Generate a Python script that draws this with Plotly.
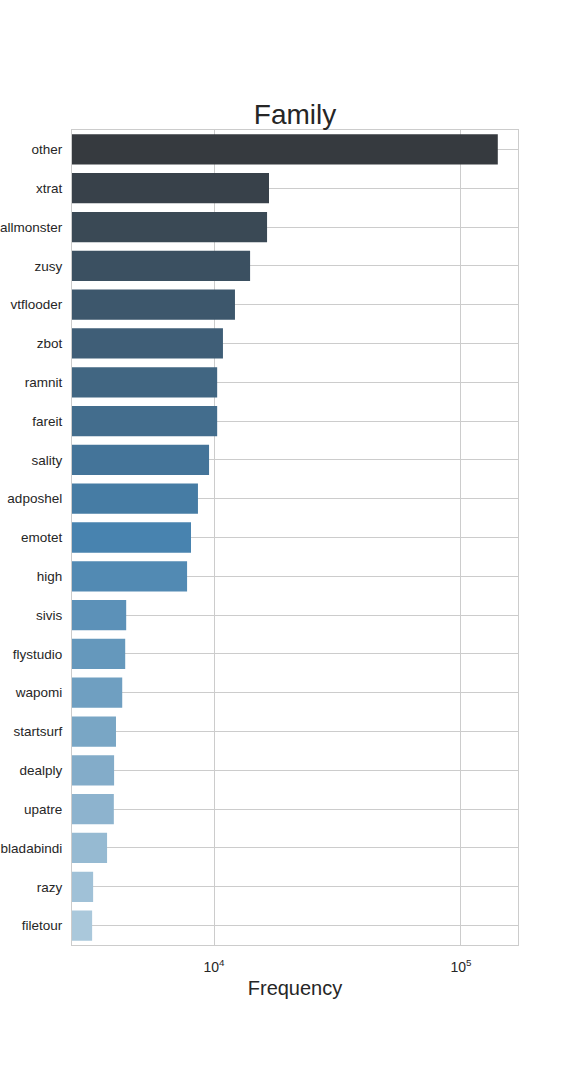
import plotly.graph_objects as go

families = ["other", "xtrat", "smallmonster", "zusy", "vtflooder", "zbot", "ramnit",
            "fareit", "sality", "adposhel", "emotet", "high", "sivis", "flystudio",
            "wapomi", "startsurf", "dealply", "upatre", "bladabindi", "razy", "filetour"]
frequency = [141000, 16700, 16400, 14000, 12160, 10870, 10300,
             10300, 9550, 8610, 8070, 7780, 4410, 4370,
             4250, 4010, 3940, 3930, 3690, 3240, 3210]

# palette: dark -> blue -> light (seaborn Blues_d style, desaturated)
def blend(c1, c2, t):
    return tuple(round(a + (b - a) * t) for a, b in zip(c1, c2))

n = len(families)
top, mid, bot = (54, 58, 63), (72, 131, 175), (170, 200, 219)
colors = []
for i in range(n):
    t = i / (n - 1)
    if t <= 0.5:
        c = blend(top, mid, t / 0.5)
    else:
        c = blend(mid, bot, (t - 0.5) / 0.5)
    colors.append("rgb(%d,%d,%d)" % c)

fig = go.Figure(go.Bar(
    x=frequency, y=families, orientation="h",
    marker=dict(color=colors, line=dict(width=0)),
    width=0.78,
))

font_family = "Liberation Sans, Arial, sans-serif"
grid = "#cccccc"

fig.update_layout(
    width=576, height=1080,
    margin=dict(l=72, r=58, t=130, b=135),
    paper_bgcolor="white", plot_bgcolor="white",
    font=dict(family=font_family, color="#262626", size=14),
    showlegend=False,
    title=dict(text="Family", x=0.5122, xanchor="center", y=1 - 114 / 1080,
               yref="container", yanchor="middle",
               font=dict(size=28, color="#262626", family=font_family)),
    bargap=0.2,
)

fig.update_xaxes(
    type="log", range=[3.425, 5.231],
    tickvals=[1e4, 1e5], ticktext=["10<sup>4</sup>", "10<sup>5</sup>"],
    showgrid=True, gridcolor=grid, gridwidth=1,
    showline=True, linecolor=grid, linewidth=1.25, mirror=True,
    ticks="", zeroline=False, ticklabelstandoff=9,
    tickfont=dict(size=14, color="#262626"),
    automargin=False,
    title=dict(text="Frequency", font=dict(size=20, color="#262626"), standoff=7),
)
fig.update_yaxes(
    autorange="reversed",
    showgrid=True, gridcolor=grid, gridwidth=1,
    showline=True, linecolor=grid, linewidth=1.25, mirror=True,
    ticks="", ticklabelstandoff=6,
    tickfont=dict(size=13.5, color="#262626"),
    automargin=False,
)

fig.write_html("out.html", config={"displayModeBar": False},
               post_script="document.body.style.margin='0';")
